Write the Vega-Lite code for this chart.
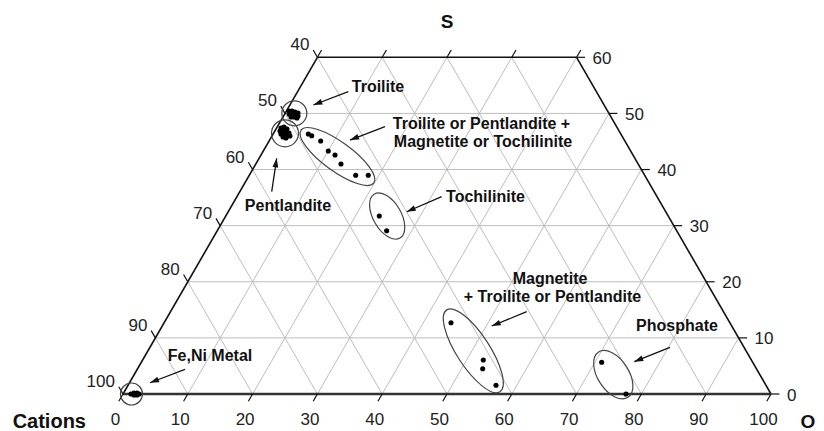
{
  "$schema": "https://vega.github.io/schema/vega-lite/v6.json",
  "width": 824,
  "height": 431,
  "autosize": {"type": "none"},
  "padding": 0,
  "background": "white",
  "config": {"view": {"stroke": null}},
  "datasets": {
    "grid": [
      {"x": 5, "S": 10, "x2": 95, "S2": 10},
      {"x": 10, "S": 20, "x2": 90, "S2": 20},
      {"x": 15, "S": 30, "x2": 85, "S2": 30},
      {"x": 20, "S": 40, "x2": 80, "S2": 40},
      {"x": 25, "S": 50, "x2": 75, "S2": 50},
      {"x": 10, "S": 0, "x2": 40, "S2": 60},
      {"x": 20, "S": 0, "x2": 50, "S2": 60},
      {"x": 30, "S": 0, "x2": 60, "S2": 60},
      {"x": 40, "S": 0, "x2": 70, "S2": 60},
      {"x": 50, "S": 0, "x2": 75, "S2": 50},
      {"x": 60, "S": 0, "x2": 80, "S2": 40},
      {"x": 70, "S": 0, "x2": 85, "S2": 30},
      {"x": 80, "S": 0, "x2": 90, "S2": 20},
      {"x": 90, "S": 0, "x2": 95, "S2": 10},
      {"x": 90, "S": 0, "x2": 60, "S2": 60},
      {"x": 80, "S": 0, "x2": 50, "S2": 60},
      {"x": 70, "S": 0, "x2": 40, "S2": 60},
      {"x": 60, "S": 0, "x2": 30, "S2": 60},
      {"x": 50, "S": 0, "x2": 25, "S2": 50},
      {"x": 40, "S": 0, "x2": 20, "S2": 40},
      {"x": 30, "S": 0, "x2": 15, "S2": 30},
      {"x": 20, "S": 0, "x2": 10, "S2": 20},
      {"x": 10, "S": 0, "x2": 5, "S2": 10}
    ],
    "edges": [
      {"x": 0, "S": 0, "x2": 30, "S2": 60},
      {"x": 30, "S": 60, "x2": 70, "S2": 60},
      {"x": 70, "S": 60, "x2": 100, "S2": 0}
    ],
    "bottomedge": [
      {"x": 0, "S": 0, "x2": 100, "S2": 0}
    ],
    "ticks": [
      {"x": 0, "S": 0, "x2": -0.65, "S2": -1.3},
      {"x": 10, "S": 0, "x2": 9.35, "S2": -1.3},
      {"x": 20, "S": 0, "x2": 19.35, "S2": -1.3},
      {"x": 30, "S": 0, "x2": 29.35, "S2": -1.3},
      {"x": 40, "S": 0, "x2": 39.35, "S2": -1.3},
      {"x": 50, "S": 0, "x2": 49.35, "S2": -1.3},
      {"x": 60, "S": 0, "x2": 59.35, "S2": -1.3},
      {"x": 70, "S": 0, "x2": 69.35, "S2": -1.3},
      {"x": 80, "S": 0, "x2": 79.35, "S2": -1.3},
      {"x": 90, "S": 0, "x2": 89.35, "S2": -1.3},
      {"x": 100, "S": 0, "x2": 99.35, "S2": -1.3},
      {"x": 30, "S": 60, "x2": 29.35, "S2": 61.3},
      {"x": 25, "S": 50, "x2": 24.35, "S2": 51.3},
      {"x": 20, "S": 40, "x2": 19.35, "S2": 41.3},
      {"x": 15, "S": 30, "x2": 14.35, "S2": 31.3},
      {"x": 10, "S": 20, "x2": 9.35, "S2": 21.3},
      {"x": 5, "S": 10, "x2": 4.35, "S2": 11.3},
      {"x": 0, "S": 0, "x2": -0.65, "S2": 1.3},
      {"x": 100, "S": 0, "x2": 101.3, "S2": 0},
      {"x": 95, "S": 10, "x2": 96.3, "S2": 10},
      {"x": 90, "S": 20, "x2": 91.3, "S2": 20},
      {"x": 85, "S": 30, "x2": 86.3, "S2": 30},
      {"x": 80, "S": 40, "x2": 81.3, "S2": 40},
      {"x": 75, "S": 50, "x2": 76.3, "S2": 50},
      {"x": 70, "S": 60, "x2": 71.3, "S2": 60},
      {"x": 30, "S": 60, "x2": 30.65, "S2": 61.3},
      {"x": 40, "S": 60, "x2": 40.65, "S2": 61.3},
      {"x": 50, "S": 60, "x2": 50.65, "S2": 61.3},
      {"x": 60, "S": 60, "x2": 60.65, "S2": 61.3},
      {"x": 70, "S": 60, "x2": 70.65, "S2": 61.3}
    ],
    "blabels": [
      {"x": 0, "S": 0, "t": "0"}, {"x": 10, "S": 0, "t": "10"}, {"x": 20, "S": 0, "t": "20"},
      {"x": 30, "S": 0, "t": "30"}, {"x": 40, "S": 0, "t": "40"}, {"x": 50, "S": 0, "t": "50"},
      {"x": 60, "S": 0, "t": "60"}, {"x": 70, "S": 0, "t": "70"}, {"x": 80, "S": 0, "t": "80"},
      {"x": 90, "S": 0, "t": "90"}, {"x": 100, "S": 0, "t": "100"}
    ],
    "llabels": [
      {"x": 30, "S": 60, "t": "40"}, {"x": 25, "S": 50, "t": "50"}, {"x": 20, "S": 40, "t": "60"},
      {"x": 15, "S": 30, "t": "70"}, {"x": 10, "S": 20, "t": "80"}, {"x": 5, "S": 10, "t": "90"},
      {"x": 0, "S": 0, "t": "100"}
    ],
    "rlabels": [
      {"x": 70, "S": 60, "t": "60"}, {"x": 75, "S": 50, "t": "50"}, {"x": 80, "S": 40, "t": "40"},
      {"x": 85, "S": 30, "t": "30"}, {"x": 90, "S": 20, "t": "20"}, {"x": 95, "S": 10, "t": "10"},
      {"x": 100, "S": 0, "t": "0"}
    ],
    "titles": [
      {"x": 50.0, "S": 65.2, "t": "S"},
      {"x": 105.71, "S": -6.06, "t": "O"}
    ],
    "titleL": [
      {"x": -11.37, "S": -6.0, "t": "Cations"}
    ],
    "pts": [
      {"x": 25.62, "S": 50.43}, {"x": 26.08, "S": 50.43}, {"x": 26.54, "S": 50.25}, {"x": 27.01, "S": 50.07},
      {"x": 25.62, "S": 49.89}, {"x": 26.08, "S": 49.89}, {"x": 26.54, "S": 49.71}, {"x": 27.01, "S": 49.54},
      {"x": 25.93, "S": 49.36}, {"x": 26.39, "S": 49.36}, {"x": 26.85, "S": 49.18},
      {"x": 24.38, "S": 47.40}, {"x": 24.85, "S": 47.58}, {"x": 25.31, "S": 47.22}, {"x": 24.23, "S": 46.86},
      {"x": 24.69, "S": 46.86}, {"x": 25.15, "S": 46.69}, {"x": 25.62, "S": 46.51}, {"x": 24.38, "S": 46.33},
      {"x": 24.85, "S": 46.15}, {"x": 25.31, "S": 45.97}, {"x": 25.77, "S": 45.97}, {"x": 24.69, "S": 45.79},
      {"x": 25.15, "S": 45.61},
      {"x": 1.23, "S": 0.0}, {"x": 1.70, "S": 0.18}, {"x": 2.16, "S": 0.18}, {"x": 1.70, "S": -0.18},
      {"x": 2.16, "S": -0.18}, {"x": 2.47, "S": 0.0},
      {"x": 28.60, "S": 46.33}, {"x": 29.12, "S": 46.03}, {"x": 30.51, "S": 45.08}, {"x": 31.68, "S": 43.30},
      {"x": 32.72, "S": 42.59}, {"x": 33.64, "S": 40.98}, {"x": 35.91, "S": 38.97}, {"x": 37.85, "S": 38.97},
      {"x": 39.55, "S": 31.72}, {"x": 40.69, "S": 29.10},
      {"x": 50.62, "S": 12.70}, {"x": 55.60, "S": 6.06}, {"x": 55.51, "S": 4.51}, {"x": 57.56, "S": 1.55},
      {"x": 73.87, "S": 5.65}, {"x": 77.62, "S": 0.0}
    ],
    "notes": [
      {"x": 39.35, "S": 53.90, "t": "Troilite"},
      {"x": 55.32, "S": 47.22, "t": "Troilite or Pentlandite +"},
      {"x": 55.56, "S": 44.10, "t": "Magnetite or Tochilinite"},
      {"x": 55.94, "S": 34.21, "t": "Tochilinite"},
      {"x": 25.46, "S": 32.61, "t": "Pentlandite"},
      {"x": 65.90, "S": 19.69, "t": "Magnetite"},
      {"x": 66.28, "S": 16.39, "t": "+ Troilite or Pentlandite"},
      {"x": 85.49, "S": 11.14, "t": "Phosphate"},
      {"x": 13.43, "S": 5.88, "t": "Fe,Ni Metal"}
    ],
    "arrows": [
      {"x": 29.37, "S": 51.50, "x2": 34.77, "S2": 53.87},
      {"x": 35.03, "S": 45.26, "x2": 40.43, "S2": 47.63},
      {"x": 23.72, "S": 42.00, "x2": 22.95, "S2": 36.05},
      {"x": 43.78, "S": 32.48, "x2": 49.18, "S2": 35.16},
      {"x": 56.90, "S": 12.12, "x2": 62.30, "S2": 14.67},
      {"x": 78.90, "S": 5.76, "x2": 84.41, "S2": 8.32},
      {"x": 4.17, "S": 2.01, "x2": 9.57, "S2": 4.40}
    ]
  },
  "encoding": {
    "x": {"field": "x", "type": "quantitative", "scale": {"domain": [-18.98, 108.18], "nice": false, "zero": false}, "axis": null},
    "y": {"field": "S", "type": "quantitative", "scale": {"domain": [-6.59, 70.21], "nice": false, "zero": false}, "axis": null}
  },
  "layer": [
    {
      "data": {"name": "grid"},
      "mark": {"type": "rule", "color": "#bdbdbd", "strokeWidth": 1},
      "encoding": {"x2": {"field": "x2"}, "y2": {"field": "S2"}}
    },
    {
      "data": {"name": "edges"},
      "mark": {"type": "rule", "color": "#111111", "strokeWidth": 1.6},
      "encoding": {"x2": {"field": "x2"}, "y2": {"field": "S2"}}
    },
    {
      "data": {"name": "bottomedge"},
      "mark": {"type": "rule", "color": "#333333", "strokeWidth": 2.4},
      "encoding": {"x2": {"field": "x2"}, "y2": {"field": "S2"}}
    },
    {
      "data": {"name": "ticks"},
      "mark": {"type": "rule", "color": "#111111", "strokeWidth": 1.2},
      "encoding": {"x2": {"field": "x2"}, "y2": {"field": "S2"}}
    },
    {
      "data": {"name": "blabels"},
      "mark": {"type": "text", "font": "Liberation Sans", "fontSize": 17, "align": "center", "baseline": "alphabetic", "dx": -7.5, "dy": 31, "color": "#222222"},
      "encoding": {"text": {"field": "t"}}
    },
    {
      "data": {"name": "llabels"},
      "mark": {"type": "text", "font": "Liberation Sans", "fontSize": 17, "align": "right", "baseline": "alphabetic", "dx": -8, "dy": -7, "color": "#222222"},
      "encoding": {"text": {"field": "t"}}
    },
    {
      "data": {"name": "rlabels"},
      "mark": {"type": "text", "font": "Liberation Sans", "fontSize": 17, "align": "left", "baseline": "alphabetic", "dx": 16, "dy": 6.5, "color": "#222222"},
      "encoding": {"text": {"field": "t"}}
    },
    {
      "data": {"name": "titles"},
      "mark": {"type": "text", "font": "Liberation Sans", "fontSize": 19, "fontWeight": "bold", "align": "center", "baseline": "alphabetic", "color": "#111111"},
      "encoding": {"text": {"field": "t"}}
    },
    {
      "data": {"name": "titleL"},
      "mark": {"type": "text", "font": "Liberation Sans", "fontSize": 20, "fontWeight": "bold", "align": "center", "baseline": "alphabetic", "color": "#111111"},
      "encoding": {"text": {"field": "t"}}
    },
    {
      "data": {"values": [{"x": 26.44, "S": 50.02}]},
      "mark": {"type": "point", "shape": "circle", "size": 625, "filled": false, "stroke": "#444444", "strokeWidth": 1.2, "opacity": 1}
    },
    {
      "data": {"values": [{"x": 25.0, "S": 46.45}]},
      "mark": {"type": "point", "shape": "circle", "size": 729, "filled": false, "stroke": "#444444", "strokeWidth": 1.2, "opacity": 1}
    },
    {
      "data": {"values": [{"x": 1.31, "S": 0.0}]},
      "mark": {"type": "point", "shape": "circle", "size": 484, "filled": false, "stroke": "#444444", "strokeWidth": 1.2, "opacity": 1}
    },
    {
      "data": {"values": [{"x": 33.10, "S": 42.32}]},
      "mark": {"type": "point", "shape": "M -1 0 A 1 0.322 0 1 0 1 0 A 1 0.322 0 1 0 -1 0 Z", "size": 8100, "angle": 36, "filled": false, "stroke": "#444444", "strokeWidth": 1.2, "opacity": 1}
    },
    {
      "data": {"values": [{"x": 40.77, "S": 31.72}]},
      "mark": {"type": "point", "shape": "M -1 0 A 1 0.549 0 1 0 1 0 A 1 0.549 0 1 0 -1 0 Z", "size": 2601, "angle": 60, "filled": false, "stroke": "#444444", "strokeWidth": 1.2, "opacity": 1}
    },
    {
      "data": {"values": [{"x": 54.06, "S": 7.70}]},
      "mark": {"type": "point", "shape": "M -1 0 A 1 0.338 0 1 0 1 0 A 1 0.338 0 1 0 -1 0 Z", "size": 9526, "angle": 57, "filled": false, "stroke": "#444444", "strokeWidth": 1.2, "opacity": 1}
    },
    {
      "data": {"values": [{"x": 75.66, "S": 3.44}]},
      "mark": {"type": "point", "shape": "M -1 0 A 1 0.574 0 1 0 1 0 A 1 0.574 0 1 0 -1 0 Z", "size": 2916, "angle": 57, "filled": false, "stroke": "#444444", "strokeWidth": 1.2, "opacity": 1}
    },
    {
      "data": {"name": "pts"},
      "mark": {"type": "point", "shape": "circle", "size": 26, "filled": true, "color": "#000000", "opacity": 1}
    },
    {
      "data": {"name": "arrows"},
      "mark": {"type": "rule", "color": "#111111", "strokeWidth": 1.3},
      "encoding": {"x2": {"field": "x2"}, "y2": {"field": "S2"}}
    },
    {
      "data": {"name": "arrows"},
      "transform": [
        {"calculate": "atan2((datum.x - datum.x2) * 6.48, (datum.S - datum.S2) * 5.612) * 180 / PI", "as": "ang"}
      ],
      "mark": {"type": "point", "shape": "M 0 0 L 0.65 2 L -0.65 2 Z", "size": 81, "filled": true, "color": "#111111", "opacity": 1},
      "encoding": {"angle": {"field": "ang", "type": "quantitative", "scale": null}}
    },
    {
      "data": {"name": "notes"},
      "mark": {"type": "text", "font": "Liberation Sans", "fontSize": 16, "fontWeight": "bold", "align": "center", "baseline": "alphabetic", "color": "#111111"},
      "encoding": {"text": {"field": "t"}}
    }
  ]
}
